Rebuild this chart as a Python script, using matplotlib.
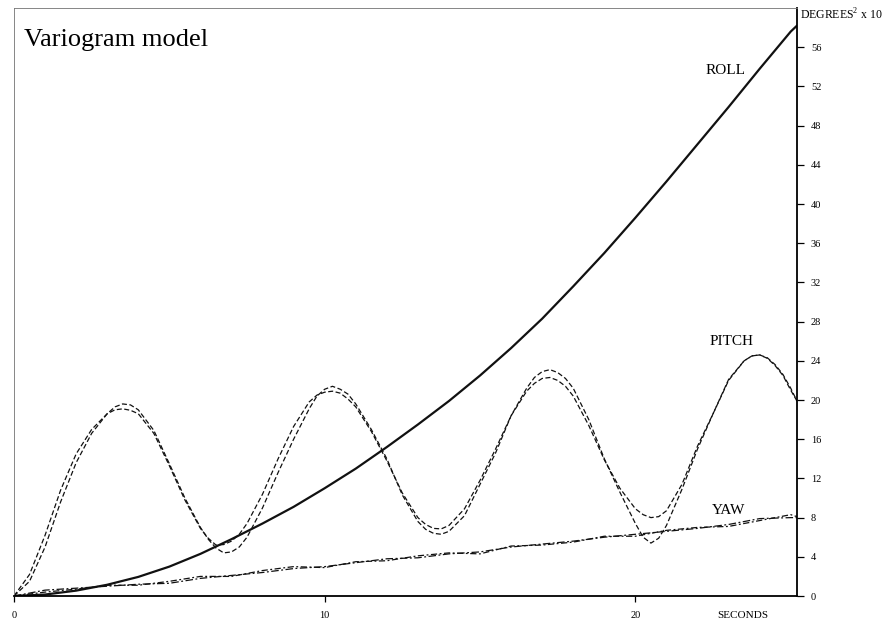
import matplotlib
matplotlib.use("Agg")
import matplotlib.pyplot as plt

plt.rcParams['font.family'] = ['Liberation Serif', 'DejaVu Serif']
plt.rcParams['mathtext.fontset'] = 'custom'
plt.rcParams['mathtext.rm'] = 'Liberation Serif'

# time axis for the pitch curves (seconds), denser around peaks and troughs
t_pitch = [0.0, 0.5, 1.0, 1.5, 2.0, 2.5, 3.0, 3.25, 3.5, 3.75, 4.0, 4.5, 5.0, 5.5, 6.0,
           6.25, 6.5, 6.75, 7.0, 7.25, 7.5, 8.0, 8.5, 9.0, 9.5, 9.75, 10.0, 10.25, 10.5,
           10.75, 11.0, 11.5, 12.0, 12.5, 13.0, 13.25, 13.5, 13.75, 14.0, 14.5, 15.0, 15.5,
           16.0, 16.5, 16.75, 17.0, 17.25, 17.5, 17.75, 18.0, 18.5, 19.0, 19.5, 20.0, 20.25,
           20.5, 20.75, 21.0, 21.5, 22.0, 22.5, 23.0, 23.5, 23.75, 24.0, 24.25, 24.5, 24.75,
           25.0, 25.2]
pitch_a = [0.0, 1.5, 5.0, 9.6, 13.6, 16.6, 18.6, 19.3, 19.6, 19.5, 19.0, 16.9, 13.5, 10.0, 7.0,
           5.8, 4.9, 4.4, 4.5, 5.0, 6.0, 9.0, 12.6, 16.0, 19.1, 20.4, 21.1, 21.4, 21.1,
           20.6, 19.6, 17.0, 14.0, 10.3, 7.6, 6.8, 6.4, 6.3, 6.6, 8.2, 11.4, 14.6,
           18.4, 21.2, 22.3, 22.9, 23.1, 22.8, 22.2, 21.2, 18.0, 14.0, 10.6, 7.4, 6.0,
           5.4, 5.9, 7.2, 10.9, 15.0, 18.6, 22.1, 24.0, 24.5, 24.6, 24.3, 23.6, 22.6,
           21.2, 19.9]
pitch_b = [0.0, 2.2, 6.2, 10.8, 14.5, 17.0, 18.6, 19.0, 19.1, 18.95, 18.6, 16.6, 13.3, 9.8, 6.9,
           5.9, 5.2, 5.25, 5.6, 6.3, 7.4, 10.4, 14.0, 17.3, 19.8, 20.5, 20.8, 20.9, 20.7,
           20.1, 19.3, 16.8, 13.8, 10.5, 8.0, 7.3, 6.9, 6.85, 7.2, 8.9, 11.8, 15.0,
           18.4, 20.9, 21.7, 22.2, 22.3, 22.0, 21.4, 20.4, 17.4, 13.9, 11.0, 8.9, 8.3,
           8.0, 8.1, 8.7, 11.4, 15.3, 18.6, 22.0, 24.0, 24.5, 24.6, 24.25, 23.5, 22.5,
           21.0, 19.9]

# time axis for roll and yaw (seconds)
t_slow = [0, 1, 2, 3, 4, 5, 6, 7, 8, 9, 10, 11, 12, 13, 14, 15, 16, 17, 18, 19, 20,
          21, 22, 23, 24, 25, 25.2]
roll = [0.0, 0.15, 0.55, 1.15, 1.95, 3.0, 4.3, 5.8, 7.4, 9.1, 11.0, 13.0, 15.2, 17.5, 19.9,
        22.5, 25.3, 28.3, 31.6, 35.0, 38.6, 42.3, 46.1, 49.9, 53.8, 57.6, 58.2]
yaw_a = [0.0, 0.6, 0.8, 1.0, 1.2, 1.3, 1.8, 2.1, 2.4, 2.8, 3.0, 3.4, 3.8, 3.9, 4.3, 4.5,
         5.0, 5.3, 5.6, 6.0, 6.3, 6.6, 6.9, 7.3, 7.9, 8.0, 8.0]
yaw_b = [0.0, 0.4, 0.7, 1.1, 1.1, 1.5, 2.0, 2.0, 2.6, 3.0, 2.9, 3.5, 3.6, 4.1, 4.4, 4.3,
         5.1, 5.2, 5.5, 6.1, 6.1, 6.7, 7.0, 7.1, 7.7, 8.3, 8.1]

x_ticks = [0, 10, 20]
y_ticks = list(range(0, 57, 4))

fig = plt.figure(figsize=(8.86, 6.26), dpi=100)
ax = fig.add_axes([0.0158, 0.0479, 0.8837, 0.9393])

ink = '#111111'
ax.plot(t_slow, roll, color=ink, lw=1.6, solid_capstyle='round', solid_joinstyle='round')
ax.plot(t_pitch, pitch_a, color=ink, lw=0.9, linestyle=(0, (4, 2)))
ax.plot(t_pitch, pitch_b, color=ink, lw=0.9, linestyle=(0, (4, 2)))
ax.plot(t_slow, yaw_a, color=ink, lw=0.9, linestyle=(0, (6, 2, 1.5, 2)))
ax.plot(t_slow, yaw_b, color=ink, lw=0.9, linestyle=(0, (5, 2, 1.5, 2)))

ax.set_xlim(0, 25.2)
ax.set_ylim(0, 60)

# axes: solid bottom and right, faint frame top and left
ax.spines['bottom'].set_linewidth(1.3)
ax.spines['right'].set_linewidth(1.3)
for side in ['top', 'left']:
    ax.spines[side].set_linewidth(0.6)
    ax.spines[side].set_color('0.45')

ax.yaxis.tick_right()
ax.set_yticks(y_ticks)
ax.set_xticks(x_ticks)
ax.tick_params(axis='y', direction='out', length=5, width=0.9, pad=5, labelsize=7.5)
ax.tick_params(axis='x', direction='out', length=4, width=0.9, pad=7, labelsize=7.5)

# curve labels
ax.text(22.9, 53.6, 'ROLL', fontsize=11, ha='center', va='center')
ax.text(23.1, 26.0, 'PITCH', fontsize=11, ha='center', va='center')
ax.text(23.0, 8.7, 'YAW', fontsize=11, ha='center', va='center')

fig.text(24 / 886, 1 - 40 / 626, 'Variogram model', fontsize=19, ha='left', va='center')
fig.text(743 / 886, 1 - 615 / 626, 'SECONDS', fontsize=8, ha='center', va='center')
fig.text(800 / 886, 1 - 15 / 626, r'DEGREES$^{2}$ x 10', fontsize=8.5, ha='left', va='center')

fig.savefig('out.png', dpi=100)
